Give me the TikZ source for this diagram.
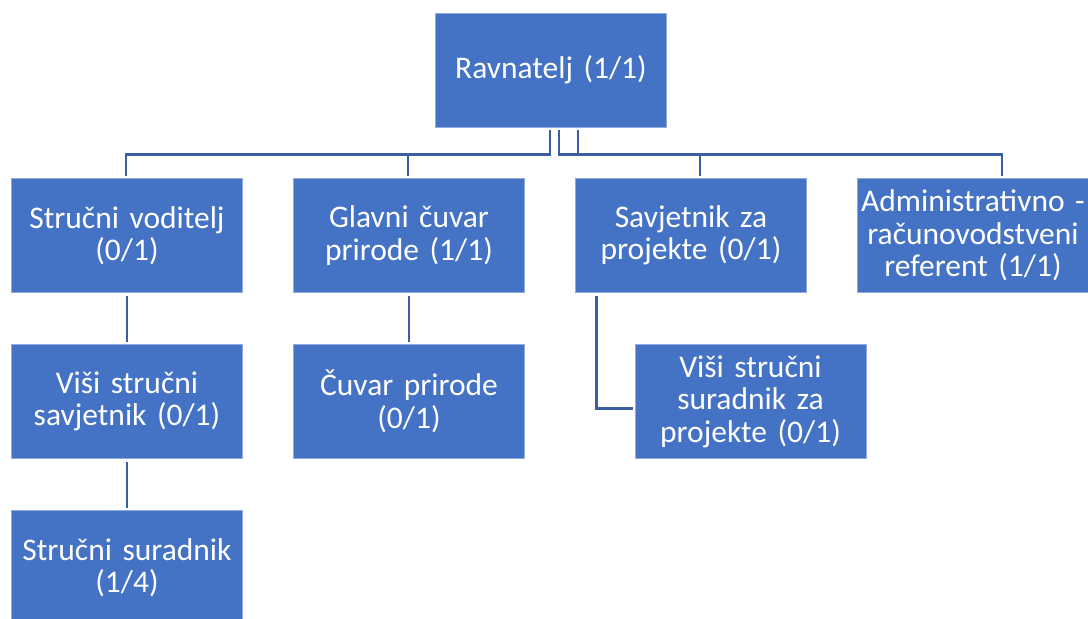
\documentclass[tikz,border=0pt]{standalone}
\usepackage{fontspec}
\setmainfont{Carlito}
\usepackage{tikz}
\usetikzlibrary{positioning}

\definecolor{boxblue}{HTML}{4472C4}
\definecolor{lineblue}{HTML}{3A5FA0}
\definecolor{edgeblue}{HTML}{8FAADC}

\begin{document}
\begin{tikzpicture}[node distance=166pt and 282pt,on grid,
    post/.style={rectangle,fill=boxblue,draw=edgeblue,line width=0.6pt,
      minimum width=231pt,minimum height=114pt,inner sep=0pt,
      text width=229pt,align=center,text=white,
      font=\fontsize{31.5}{32.5}\selectfont},
    link/.style={draw=lineblue,line width=2.7pt,shorten <=3pt,shorten >=2pt}]
   \useasboundingbox (0,0) rectangle (1088pt,-619pt);
   \node[post] (rav) at (551pt,-70pt) {Ravnatelj (1/1)};
   \node[post] (sv) [below left=165.5pt and 424pt of rav] {Stručni voditelj\\(0/1)};
   \node[post] (gc) [right=of sv] {Glavni čuvar\\prirode (1/1)};
   \node[post] (sp) [right=of gc] {Savjetnik za\\projekte (0/1)};
   \node[post] (ar) [right=of sp] {Administrativno~-\\računovodstveni\\referent (1/1)};
   \node[post] (vss) [below=of sv] {Viši stručni\\savjetnik (0/1)};
   \node[post] (cp) [below=of gc] {Čuvar prirode\\(0/1)};
   \node[post] (vssp) [below right=166pt and 59.5pt of sp] {Viši stručni\\suradnik za\\projekte (0/1)};
   \node[post] (ss) [below=of vss] {Stručni suradnik\\(1/4)};
   % ravnatelj to first row
   \draw[link] ([xshift=-1pt]rav.south) -- ++(0,-27pt) -| ([xshift=-1pt]sv.north);
   \draw[link] ([xshift=-1pt]rav.south) -- ++(0,-27pt) -| ([xshift=-1pt]gc.north);
   \draw[link] ([xshift=8pt]rav.south) -- ++(0,-27pt) -| ([xshift=9pt]sp.north);
   \draw[link] ([xshift=27pt]rav.south) -- ++(0,-27pt) -| ([xshift=29pt]ar.north);
   % lower rows
   \draw[link] (sv.south) -- (vss.north);
   \draw[link] (vss.south) -- (ss.north);
   \draw[link] (gc.south) -- (cp.north);
   \draw[link] ([xshift=21pt]sp.south west) |- ([yshift=-7pt]vssp.west);
\end{tikzpicture}
\end{document}
